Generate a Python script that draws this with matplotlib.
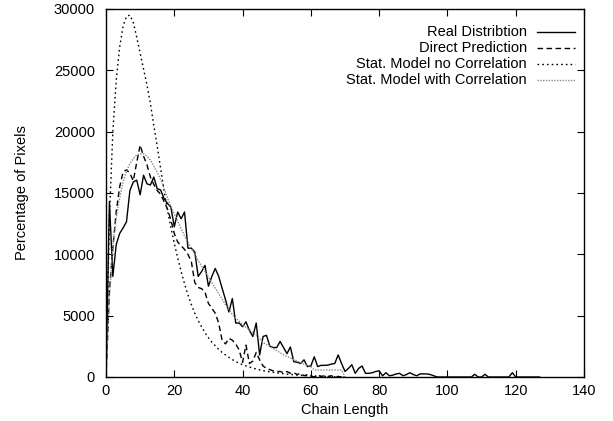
import matplotlib
matplotlib.use("Agg")
import matplotlib.pyplot as plt
import numpy as np

plt.rcParams['font.family'] = ['Liberation Sans', 'DejaVu Sans']

# Real distribution (solid), chain length 0..127
real_x = list(range(0, 128))
real_y = [0, 14300, 8200, 10800, 11700, 12150, 12650, 15200, 15900, 16050,
          14850, 16450, 15750, 15650, 16300, 15350, 15250, 14550, 14150, 13850,
          12250, 13450, 12900, 13450, 10500, 10500, 10200, 8200, 8600, 9100,
          7400, 8200, 8850, 8200, 7250, 6300, 5300, 6400, 4400, 4400,
          4100, 4500, 3800, 3300, 4400, 1800, 3300, 3400, 2500, 2400,
          2400, 2900, 2400, 1900, 2450, 1250, 1200, 1100, 1400, 850,
          900, 1650, 850, 950, 950, 970, 1050, 1100, 1800, 1100,
          450, 700, 1000, 300, 700, 900, 300, 300, 350, 450,
          500, 100, 350, 100, 150, 250, 300, 100, 200, 350,
          200, 100, 250, 250, 250, 200, 100, 0, 0, 0,
          0, 0, 0, 0, 0, 0, 0, 0, 220, 0,
          0, 220, 0, 0, 0, 0, 0, 0, 0, 350,
          0, 0, 0, 0, 0, 0, 0, 0]

# Direct prediction (dashed)
direct_x = list(range(0, 71))
direct_y = [0, 7000, 10500, 13500, 15500, 16700, 16900, 16600, 16000, 17500,
            18900, 18000, 17300, 16300, 15700, 15200, 14900, 14300, 13700, 12800,
            11700, 11000, 10700, 10400, 10000, 9400, 7700, 7300, 7200, 6900,
            6000, 5600, 5200, 4400, 3000, 2700, 3150, 3000, 2700, 2200,
            1200, 2600, 1100, 1300, 2000, 1400, 900, 700, 600, 500,
            450, 450, 350, 450, 300, 350, 200, 300, 100, 200,
            100, 0, 150, 50, 100, 50, 100, 0, 50, 0,
            0]

# Stat. model without correlation (coarse dots)
nocorr_x = list(range(0, 71))
nocorr_y = [0, 13000, 20000, 24200, 26900, 28600, 29400, 29500, 28900, 27700,
            26400, 25100, 23800, 22300, 20500, 18800, 17000, 15200, 13600, 12200,
            10900, 9700, 8600, 7600, 6700, 5900, 5200, 4600, 4100, 3600,
            3200, 2850, 2550, 2250, 2000, 1800, 1600, 1420, 1260, 1120,
            1000, 900, 810, 730, 650, 580, 520, 470, 420, 380,
            340, 300, 270, 240, 210, 180, 160, 140, 120, 100,
            90, 80, 70, 60, 50, 40, 30, 20, 10, 5,
            0]

# Stat. model with correlation (fine grey dots)
corr_x = list(range(0, 71))
corr_y = [0, 6500, 10800, 13000, 14600, 15900, 16800, 17400, 17800, 18100,
          18200, 18200, 18000, 17700, 17200, 16700, 16100, 15400, 14600, 13900,
          13300, 12700, 12100, 11500, 11000, 10500, 10000, 9500, 9050, 8600,
          8150, 7700, 7250, 6800, 6350, 5900, 5500, 5100, 4800, 4550,
          4300, 4050, 3850, 3600, 3400, 3150, 2800, 2650, 2500, 2320,
          2150, 1980, 1800, 1680, 1550, 1420, 1300, 1170, 1050, 950,
          850, 570, 570, 570, 570, 570, 570, 570, 570, 570,
          0]

labels = ["Real Distribtion", "Direct Prediction",
          "Stat. Model no Correlation", "Stat. Model with Correlation"]

fig = plt.figure(figsize=(6.13, 4.21), dpi=100)
ax = fig.add_axes([106 / 613, 1 - 377 / 421, 478 / 613, 368 / 421])

styles = [dict(color='black', lw=1.0, ls='-'),
          dict(color='black', lw=1.0, ls=(0, (4, 2.5))),
          dict(color='black', lw=1.0, ls=(0, (1.2, 2.2))),
          dict(color='#888888', lw=1.0, ls=(0, (1, 1)))]
series = [(real_x, real_y), (direct_x, direct_y), (nocorr_x, nocorr_y), (corr_x, corr_y)]

for (xs, ys), st in zip(series, styles):
    ax.plot(xs, ys, **st)

fs = 10.5
ax.set_xlim(0, 140)
ax.set_ylim(0, 30000)
ax.set_xticks(np.arange(0, 141, 20))
ax.set_yticks(np.arange(0, 30001, 5000))
ax.tick_params(direction='in', length=5, width=0.8, top=True, right=True,
               labelsize=fs)
ax.tick_params(axis='y', pad=8)
ax.tick_params(axis='x', pad=5)
for s in ax.spines.values():
    s.set_linewidth(1.0)
ax.set_xlabel("Chain Length", fontsize=fs)
ax.set_ylabel("Percentage of Pixels", fontsize=fs)
ax.xaxis.set_label_coords(0.5, (377 - 410) / 368 - 0.0)
ax.xaxis.label.set_va('center')
ax.yaxis.set_label_coords((22 - 106) / 478, 0.5)
ax.yaxis.label.set_va('center')

# gnuplot-style key: right-aligned text, sample line on the right
tx = (527 - 106) / 478
l0, l1 = (537 - 106) / 478, (575 - 106) / 478
for i, (lab, st) in enumerate(zip(labels, styles)):
    yy = 1 - (32 + 16 * i - 9) / 368
    ax.text(tx, yy, lab, transform=ax.transAxes, ha='right', va='center', fontsize=fs)
    ax.plot([l0, l1], [yy, yy], transform=ax.transAxes, **st)

fig.savefig("out.png", dpi=100)
